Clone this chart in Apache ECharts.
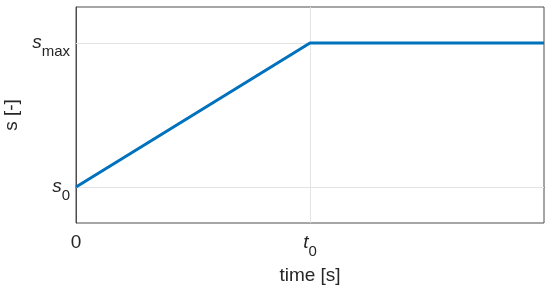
<!DOCTYPE html>
<html>
<head>
<meta charset="utf-8">
<script src="https://cdn.jsdelivr.net/npm/echarts@6/dist/echarts.min.js"></script>
<style>
html, body { margin: 0; padding: 0; background: #fff; }
#main { width: 550px; height: 293px; }
</style>
</head>
<body>
<div id="main"></div>
<script>
// time in units of t0, s normalised so s0 = 0 and smax = 1
const timeValues = [0, 1, 2];
const sValues = [0, 1, 1];
const xTicks = [0, 1];
const xTickLabels = ['{n|0}', '{s|t}{sub|0}'];
const yTicks = [0, 1];
const yTickLabels = ['{s|s}{sub|0}', '{s|s}{sub|max}'];

const axisColor = '#4d4d4d';
const gridColor = '#e3e3e3';
const font = 'Liberation Sans, Arial, sans-serif';

const rich = {
    n: { fontSize: 19, fontFamily: font, color: '#262626' },
    s: { fontSize: 19, fontFamily: font, fontStyle: 'italic', color: '#262626', verticalAlign: 'top', lineHeight: 24 },
    sub: { fontSize: 15, fontFamily: font, color: '#262626', verticalAlign: 'bottom', lineHeight: 26 }
};

const chart = echarts.init(document.getElementById('main'));

const option = {
    animation: false,
    grid: {
        left: 76, right: 6, top: 7, bottom: 70,
        outerBoundsMode: 'none',
        containLabel: false,
        show: true, borderColor: axisColor, borderWidth: 1
    },
    xAxis: {
        type: 'value',
        min: 0, max: 2,
        name: 'time [s]',
        nameLocation: 'middle',
        nameGap: 43,
        nameTextStyle: { fontSize: 19, fontFamily: font, color: '#262626' },
        axisLine: { show: true, lineStyle: { color: axisColor } },
        axisTick: { show: true, inside: true, length: 5, customValues: xTicks, lineStyle: { color: axisColor } },
        axisLabel: {
            customValues: xTicks,
            margin: 10,
            formatter: (v) => xTickLabels[xTicks.indexOf(v)],
            rich: rich
        },
        splitLine: { show: false }
    },
    yAxis: {
        type: 'value',
        min: -0.25, max: 1.25,
        name: 's [-]',
        nameLocation: 'middle',
        nameGap: 47,
        nameTextStyle: { fontSize: 19, fontFamily: font, color: '#262626' },
        axisLine: { show: true, lineStyle: { color: axisColor } },
        axisTick: { show: true, inside: true, length: 5, customValues: yTicks, lineStyle: { color: axisColor } },
        axisLabel: {
            customValues: yTicks,
            margin: 6,
            padding: [6, 0, 0, 0],
            formatter: (v) => yTickLabels[yTicks.indexOf(v)],
            rich: rich
        },
        splitLine: { show: false }
    },
    series: [
        {
            // grid lines at the tick positions
            type: 'line',
            data: [],
            z: 1,
            markLine: {
                silent: true,
                z: 1,
                symbol: 'none',
                label: { show: false },
                lineStyle: { color: gridColor, type: 'solid', width: 1 },
                data: xTicks.filter(v => v !== 0).map(v => ({ xAxis: v }))
                    .concat(yTicks.map(v => ({ yAxis: v })))
            }
        },
        {
            type: 'line',
            z: 3,
            data: timeValues.map((t, i) => [t, sValues[i]]),
            showSymbol: false,
            lineStyle: { color: '#0072bd', width: 3 }
        }
    ]
};

chart.setOption(option);
</script>
</body>
</html>
